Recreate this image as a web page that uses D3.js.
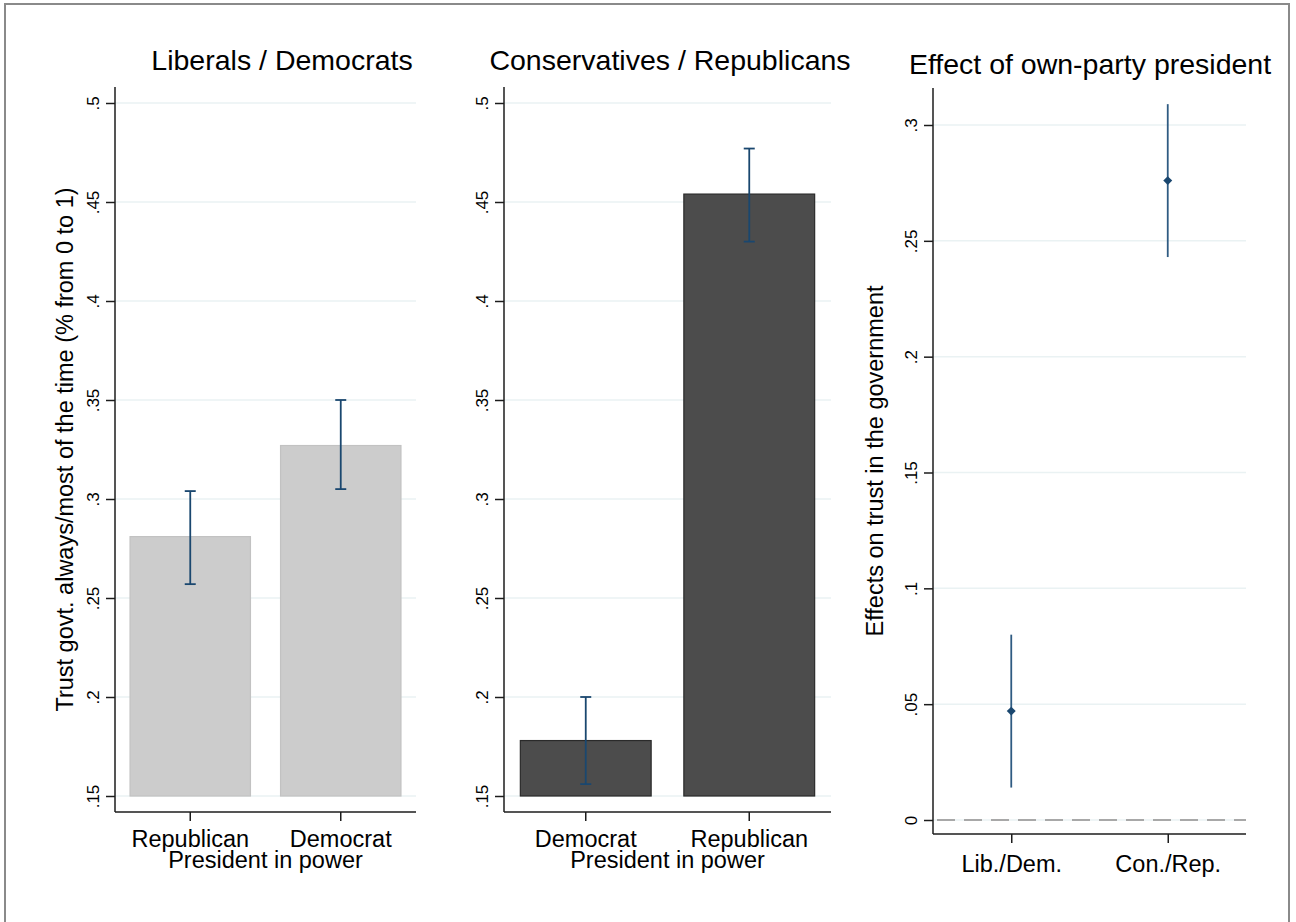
<!DOCTYPE html>
<html>
<head>
<meta charset="utf-8">
<script src="https://cdn.jsdelivr.net/npm/d3@7/dist/d3.min.js"></script>
<style>
  html, body { margin: 0; padding: 0; background: #fff; }
  svg { display: block; font-family: "Liberation Sans", Arial, sans-serif; }
</style>
</head>
<body>
<svg id="chart" width="1296" height="922"></svg>
<script>
// Panel 1: liberals / democrats
const libCategories = ["Republican", "Democrat"];
const libMeans = [0.281, 0.327];
const libLower = [0.257, 0.305];
const libUpper = [0.304, 0.350];

// Panel 2: conservatives / republicans
const conCategories = ["Democrat", "Republican"];
const conMeans = [0.178, 0.454];
const conLower = [0.156, 0.430];
const conUpper = [0.200, 0.477];

// Panel 3: effect of own-party president
const effectCategories = ["Lib./Dem.", "Con./Rep."];
const effectEstimates = [0.047, 0.276];
const effectLower = [0.014, 0.243];
const effectUpper = [0.080, 0.309];

const barTicks = [0.15, 0.2, 0.25, 0.3, 0.35, 0.4, 0.45, 0.5];
const effectTicks = [0, 0.05, 0.1, 0.15, 0.2, 0.25, 0.3];

const titles = ["Liberals / Democrats", "Conservatives / Republicans", "Effect of own-party president"];
const barYTitle = "Trust govt. always/most of the time (% from 0 to 1)";
const barXTitle = "President in power";
const effectYTitle = "Effects on trust in the government";

const svg = d3.select("#chart");
const navy = "#1a476f";
const gridColor = "#eaf2f3";
const axisColor = "#1c1c1c";
const FONT = "'Liberation Sans', Arial, sans-serif";

// Stata-style tick labels: drop the leading zero
const stataFmt = v => v === 0 ? "0" : String(+v.toFixed(2)).replace(/^0\./, ".");

// outer frame
svg.append("rect")
  .attr("x", 5).attr("y", 4).attr("width", 1284).attr("height", 960)
  .attr("fill", "none").attr("stroke", "#8a8a8a").attr("stroke-width", 2);

function yAxisPanel(g, y, ticks, left, right, top, bottom, ytitle, titleX) {
  // horizontal grid at each tick
  g.append("g").selectAll("line").data(ticks).join("line")
    .attr("x1", left).attr("x2", right)
    .attr("y1", d => y(d)).attr("y2", d => y(d))
    .attr("stroke", gridColor).attr("stroke-width", 1.5);

  const ax = g.append("g").attr("transform", `translate(${left},0)`)
    .call(d3.axisLeft(y).tickValues(ticks).tickFormat(stataFmt).tickSize(9).tickSizeOuter(0));
  ax.select(".domain").remove();
  ax.selectAll(".tick line").attr("stroke", axisColor).attr("stroke-width", 1.5);
  ax.selectAll(".tick text")
    .attr("x", 0).attr("y", 0).attr("dy", null)
    .attr("transform", "translate(-16,0) rotate(-90)")
    .attr("text-anchor", "middle")
    .attr("font-size", 17).attr("fill", "#000")
    .style("font-family", FONT);

  g.append("line").attr("x1", left).attr("x2", left).attr("y1", top).attr("y2", bottom)
    .attr("stroke", axisColor).attr("stroke-width", 1.5);

  if (ytitle) {
    g.append("text")
      .attr("transform", `translate(${titleX},${(top + bottom) / 2}) rotate(-90)`)
      .attr("text-anchor", "middle").attr("font-size", 23.5).attr("fill", "#000")
      .text(ytitle);
  }
}

function xAxisPanel(g, x, left, right, bottom, labelY) {
  g.append("line").attr("x1", left).attr("x2", right).attr("y1", bottom).attr("y2", bottom)
    .attr("stroke", axisColor).attr("stroke-width", 1.5);
  const ax = g.append("g").attr("transform", `translate(0,${bottom})`)
    .call(d3.axisBottom(x).tickSize(9).tickSizeOuter(0));
  ax.select(".domain").remove();
  ax.selectAll(".tick line").attr("stroke", axisColor).attr("stroke-width", 1.5);
  ax.selectAll(".tick text")
    .attr("y", labelY - bottom).attr("dy", null)
    .attr("font-size", 23.5).attr("fill", "#000")
    .style("font-family", FONT);
}

function barPanel(cfg) {
  const g = svg.append("g");
  const y = d3.scaleLinear().domain([0.15, 0.5]).range([796, 103]);
  const x = d3.scaleBand().domain(cfg.cats).range([cfg.left, cfg.right]).paddingInner(0.2).paddingOuter(0.1);

  yAxisPanel(g, y, barTicks, cfg.left, cfg.right, 87, 812, cfg.yTitle, cfg.yTitleX);

  const rows = cfg.cats.map((c, i) => ({ c, m: cfg.means[i], lo: cfg.lower[i], hi: cfg.upper[i] }));

  g.append("g").selectAll("rect").data(rows).join("rect")
    .attr("x", d => x(d.c)).attr("width", x.bandwidth())
    .attr("y", d => y(d.m)).attr("height", d => y(0.15) - y(d.m))
    .attr("fill", cfg.fill).attr("stroke", cfg.stroke).attr("stroke-width", 1.2);

  // confidence intervals with caps
  const eb = g.append("g").attr("stroke", navy).attr("stroke-width", 1.8);
  const cx = d => x(d.c) + x.bandwidth() / 2;
  eb.selectAll(".v").data(rows).join("line")
    .attr("x1", cx).attr("x2", cx).attr("y1", d => y(d.lo)).attr("y2", d => y(d.hi));
  eb.selectAll(".t").data(rows).join("line")
    .attr("x1", d => cx(d) - 5.5).attr("x2", d => cx(d) + 5.5).attr("y1", d => y(d.hi)).attr("y2", d => y(d.hi));
  eb.selectAll(".b").data(rows).join("line")
    .attr("x1", d => cx(d) - 5.5).attr("x2", d => cx(d) + 5.5).attr("y1", d => y(d.lo)).attr("y2", d => y(d.lo));

  xAxisPanel(g, x, cfg.left, cfg.right, 812, 847);

  g.append("text").attr("x", (cfg.left + cfg.right) / 2).attr("y", 868)
    .attr("text-anchor", "middle").attr("font-size", 23.5).attr("fill", "#000").text(barXTitle);

  g.append("text").attr("x", cfg.titleX).attr("y", 70)
    .attr("text-anchor", "middle").attr("font-size", 28.5).attr("fill", "#000").text(cfg.title);
}

barPanel({ cats: libCategories, means: libMeans, lower: libLower, upper: libUpper,
  left: 115, right: 416, fill: "#cccccc", stroke: "#c2c2c2",
  yTitle: barYTitle, yTitleX: 73, titleX: 282, title: titles[0] });
barPanel({ cats: conCategories, means: conMeans, lower: conLower, upper: conUpper,
  left: 504, right: 831, fill: "#4c4c4c", stroke: "#2a2a2a",
  yTitle: null, yTitleX: 0, titleX: 670, title: titles[1] });

// Panel 3: coefficient plot
(function () {
  const g = svg.append("g");
  const left = 933, right = 1246, top = 88, bottom = 834;
  const y = d3.scaleLinear().domain([0, 0.3]).range([820, 125]);
  const x = d3.scalePoint().domain(effectCategories).range([left, right]).padding(0.5);

  yAxisPanel(g, y, effectTicks, left, right, top, bottom, effectYTitle, 883);

  // reference line at zero
  g.append("line").attr("x1", left).attr("x2", right).attr("y1", y(0)).attr("y2", y(0))
    .attr("stroke", "#a8a8a8").attr("stroke-width", 1.8).attr("stroke-dasharray", "18,9")
    .attr("stroke-dashoffset", -4);

  const rows = effectCategories.map((c, i) => ({ c, e: effectEstimates[i], lo: effectLower[i], hi: effectUpper[i] }));
  g.append("g").selectAll("line").data(rows).join("line")
    .attr("x1", d => x(d.c)).attr("x2", d => x(d.c))
    .attr("y1", d => y(d.lo)).attr("y2", d => y(d.hi))
    .attr("stroke", "#2f5b82").attr("stroke-width", 1.8);
  g.append("g").selectAll("path").data(rows).join("path")
    .attr("d", d3.symbol(d3.symbolSquare, 40))
    .attr("transform", d => `translate(${x(d.c)},${y(d.e)}) rotate(45)`)
    .attr("fill", navy);

  xAxisPanel(g, x, left, right, bottom, 872);

  g.append("text").attr("x", 1090).attr("y", 74)
    .attr("text-anchor", "middle").attr("font-size", 28.5).attr("fill", "#000").text(titles[2]);
})();
</script>
</body>
</html>
